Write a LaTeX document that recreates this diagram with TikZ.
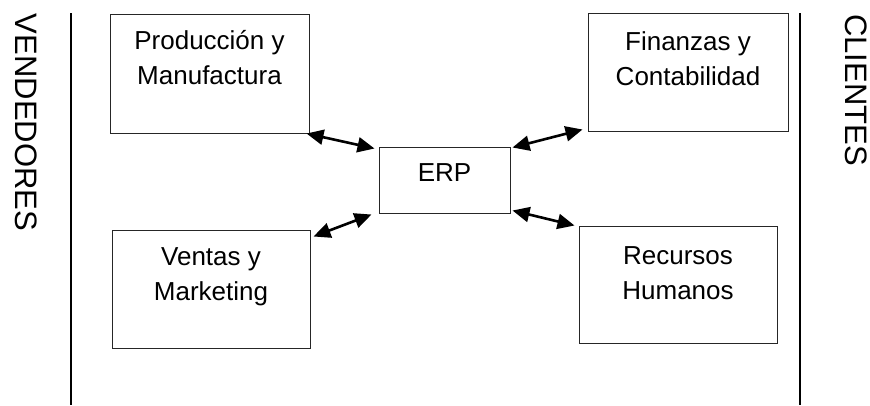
\documentclass[tikz,border=0pt]{standalone}
\usepackage{fontspec}
\setmainfont{Liberation Sans}
\usetikzlibrary{arrows.meta,calc}
\tikzset{
  box/.style={draw=black!85, line width=1pt, minimum width=#1, inner sep=0pt},
  boxtext/.style={anchor=north, inner sep=0pt, align=center, font=\fontsize{26}{35}\selectfont},
  side/.style={rotate=-90, inner sep=0pt, font=\fontsize{31}{36}\selectfont},
  sideline/.style={line width=2pt},
  link/.style={line width=2.6pt, arrows={Triangle[length=17pt,width=15pt]-Triangle[length=17pt,width=15pt]}}
}
\begin{document}
\begin{tikzpicture}[x=1pt,y=-1pt]
\useasboundingbox (0,0) rectangle (870,405);
% side lines
\coordinate (l1) at (71,13);
\coordinate (l2) at (71,405);
\coordinate (r1) at (800,13);
\coordinate (r2) at (800,405);
\draw[sideline] (l1) -- (l2);
\draw[sideline] (r1) -- (r2);
% side labels
\node[side] (vend) at (26,122.5) {VENDEDORES};
\node[side] (cli) at (856,90) {CLIENTES};
% boxes
\node[box=199pt, minimum height=119pt] (prod) at (209.5,73.5) {};
\node[box=200pt, minimum height=118pt] (fin) at (688,72) {};
\node[box=131pt, minimum height=66pt] (erp) at (444.5,180) {};
\node[box=198pt, minimum height=118pt] (vent) at (211,289) {};
\node[box=198pt, minimum height=117pt] (rrhh) at (678,284.5) {};
% texts
\node[boxtext] (prodt) at ($(prod.north)+(0,17)$) {Producción y\\Manufactura};
\node[boxtext] (fint) at ($(fin.north)+(0,19)$) {Finanzas y\\Contabilidad};
\node[boxtext] (erpt) at ($(erp.north)+(0,17)$) {ERP};
\node[boxtext] (ventt) at ($(vent.north)+(0,18)$) {Ventas y\\Marketing};
\node[boxtext] (rrhht) at ($(rrhh.north)+(0,21)$) {Recursos\\Humanos};
% connectors
\draw[link] ($(prod.south east)+(-3,0)$) -- ($(erp.north west)+(-4,2)$);
\draw[link] ($(erp.north east)+(2,1)$) -- ($(fin.south west)+(-5,-2)$);
\draw[link] ($(vent.north east)+(3,7)$) -- ($(erp.south west)+(-7,1)$);
\draw[link] ($(erp.south east)+(2,-3)$) -- ($(rrhh.north west)+(-4,0)$);
\end{tikzpicture}
\end{document}
